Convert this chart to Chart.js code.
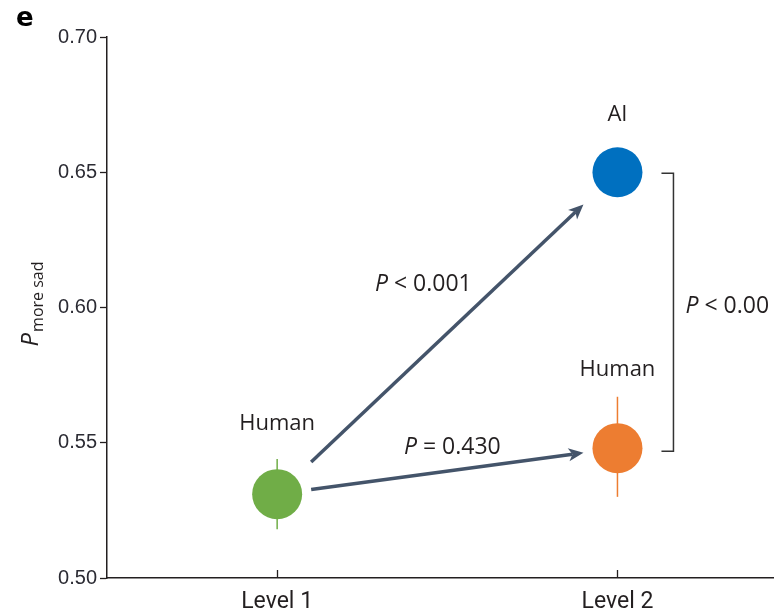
<!DOCTYPE html>
<html>
<head>
<meta charset="utf-8">
<script src="https://cdn.jsdelivr.net/npm/chart.js@4.4.0/dist/chart.umd.min.js"></script>
<style>
  html, body { margin: 0; padding: 0; background: #ffffff; }
  #wrap { width: 774px; height: 612px; position: relative; }
</style>
</head>
<body>
<div id="wrap"><canvas id="c" width="774" height="612"></canvas></div>
<script>
// Categories on the x axis
const categories = ['Level 1', 'Level 2'];
// Groups: name, level index (1-based), mean and interval
const groupNames = ['Human', 'AI', 'Human'];
const groupLevels = [1, 2, 2];
const meanValues = [0.531, 0.650, 0.548];
const lowValues = [0.518, 0.646, 0.530];
const highValues = [0.544, 0.654, 0.567];
// Y axis ticks
const yTicks = [0.50, 0.55, 0.60, 0.65, 0.70];
// Comparisons: from group, to group, operator, P value text
const arrowFrom = [0, 0];
const arrowTo = [1, 2];
const arrowOps = ['<', '='];
const arrowPValues = ['0.001', '0.430'];
// Bracket comparison between the two Level 2 groups
const bracketGroups = [1, 2];
const bracketOp = '<';
const bracketPValue = '0.00';

const groupColors = ['#70AD47', '#0070C0', '#ED7D31'];
const ink = '#231F20';
const arrowColor = '#44546A';
const textFont = '"Open Sans", "Noto Sans", sans-serif';
const pSize = 23;

function drawPText(ctx, x, y, op, val, align) {
  ctx.save();
  ctx.fillStyle = ink;
  ctx.textBaseline = 'middle';
  ctx.font = 'italic ' + pSize + 'px ' + textFont;
  const pW = ctx.measureText('P').width;
  ctx.font = pSize + 'px ' + textFont;
  const rest = ' ' + op + ' ' + val;
  const rW = ctx.measureText(rest).width;
  const total = pW + rW;
  let x0 = align === 'center' ? x - total / 2 : x;
  ctx.textAlign = 'left';
  ctx.font = 'italic ' + pSize + 'px ' + textFont;
  ctx.fillText('P', x0, y);
  ctx.font = pSize + 'px ' + textFont;
  ctx.fillText(rest, x0 + pW, y);
  ctx.restore();
}

const annotations = {
  id: 'annotations',
  beforeDatasetsDraw(chart) {
    const { ctx, scales: { x, y } } = chart;
    ctx.save();
    ctx.lineWidth = 1.5;
    groupNames.forEach((g, i) => {
      const px = x.getPixelForValue(groupLevels[i]);
      ctx.strokeStyle = groupColors[i];
      ctx.beginPath();
      ctx.moveTo(px, y.getPixelForValue(lowValues[i]));
      ctx.lineTo(px, y.getPixelForValue(highValues[i]));
      ctx.stroke();
    });
    ctx.restore();
  },
  afterDatasetsDraw(chart) {
    const { ctx, scales: { x, y }, chartArea } = chart;
    const P = i => ({ x: x.getPixelForValue(groupLevels[i]), y: y.getPixelForValue(meanValues[i]) });

    // inner tick marks on the x axis
    ctx.save();
    ctx.strokeStyle = ink;
    ctx.lineWidth = 1.3;
    categories.forEach((c, i) => {
      const px = Math.round(x.getPixelForValue(i + 1)) + 0.5;
      ctx.beginPath();
      ctx.moveTo(px, chartArea.bottom);
      ctx.lineTo(px, chartArea.bottom - 8);
      ctx.stroke();
    });
    ctx.restore();

    // arrows between groups
    const gap = 34;
    arrowFrom.forEach((f, k) => {
      const a = P(f), b = P(arrowTo[k]);
      const slope = (b.y - a.y) / (b.x - a.x);
      const sx = a.x + gap, sy = a.y + slope * gap;
      const ex = b.x - gap, ey = b.y - slope * gap;
      const ang = Math.atan2(ey - sy, ex - sx);
      const headLen = 15, headHalf = 6.5, notch = 4;
      ctx.save();
      ctx.strokeStyle = arrowColor;
      ctx.fillStyle = arrowColor;
      ctx.lineWidth = 3.5;
      ctx.lineCap = 'butt';
      ctx.beginPath();
      ctx.moveTo(sx, sy);
      ctx.lineTo(ex - Math.cos(ang) * (headLen - notch), ey - Math.sin(ang) * (headLen - notch));
      ctx.stroke();
      ctx.translate(ex, ey);
      ctx.rotate(ang);
      ctx.beginPath();
      ctx.moveTo(0, 0);
      ctx.lineTo(-headLen, -headHalf);
      ctx.lineTo(-headLen + notch, 0);
      ctx.lineTo(-headLen, headHalf);
      ctx.closePath();
      ctx.fill();
      ctx.restore();

      const mx = (sx + ex) / 2, my = (sy + ey) / 2;
      if (k === 0) drawPText(ctx, mx - 24, my - 49, arrowOps[k], arrowPValues[k], 'center');
      else drawPText(ctx, mx + 5, my - 24, arrowOps[k], arrowPValues[k], 'center');
    });

    // bracket between the two Level 2 groups
    const t = P(bracketGroups[0]), b = P(bracketGroups[1]);
    const bx0 = t.x + 44, bx1 = t.x + 56;
    ctx.save();
    ctx.strokeStyle = '#333333';
    ctx.lineWidth = 1.5;
    ctx.beginPath();
    ctx.moveTo(bx0, t.y + 1);
    ctx.lineTo(bx1, t.y + 1);
    ctx.lineTo(bx1, b.y + 3);
    ctx.lineTo(bx0, b.y + 3);
    ctx.stroke();
    ctx.restore();
    drawPText(ctx, bx1 + 12, (t.y + b.y) / 2 - 4, bracketOp, bracketPValue, 'left');

    // group names above markers
    const labelOffsets = [70, 58, 78];
    ctx.save();
    ctx.fillStyle = ink;
    ctx.font = '22px ' + textFont;
    ctx.textAlign = 'center';
    ctx.textBaseline = 'middle';
    groupNames.forEach((g, i) => {
      const p = P(i);
      ctx.fillText(g, p.x, p.y - labelOffsets[i]);
    });
    ctx.restore();
  },
  afterDraw(chart) {
    const { ctx } = chart;
    ctx.save();
    // panel letter
    ctx.fillStyle = '#000000';
    ctx.font = 'bold 26px "DejaVu Sans", sans-serif';
    ctx.textAlign = 'left';
    ctx.textBaseline = 'alphabetic';
    ctx.fillText('e', 16, 26);
    // y axis title: P with subscript
    ctx.translate(31, 304);
    ctx.rotate(-Math.PI / 2);
    ctx.fillStyle = ink;
    ctx.font = 'italic 24px ' + textFont;
    const pW = ctx.measureText('P').width;
    ctx.font = '16px ' + textFont;
    const sub = 'more sad';
    const sW = ctx.measureText(sub).width;
    const total = pW + 1 + sW;
    ctx.textBaseline = 'alphabetic';
    ctx.font = 'italic 24px ' + textFont;
    ctx.fillText('P', -total / 2, 7);
    ctx.font = '16px ' + textFont;
    ctx.fillText(sub, -total / 2 + pW + 1, 12);
    ctx.restore();
  }
};

new Chart(document.getElementById('c').getContext('2d'), {
  type: 'scatter',
  data: {
    datasets: groupNames.map((g, i) => ({
      label: g,
      data: [{ x: groupLevels[i], y: meanValues[i] }],
      backgroundColor: groupColors[i],
      borderColor: groupColors[i],
      borderWidth: 0,
      pointRadius: 25,
      pointHoverRadius: 25
    }))
  },
  options: {
    responsive: false,
    animation: false,
    events: [],
    layout: { autoPadding: false, padding: { top: 37, right: 0, left: 0, bottom: 0 } },
    plugins: { legend: { display: false }, tooltip: { enabled: false } },
    scales: {
      x: {
        type: 'linear',
        min: 0.5,
        max: 2.46,
        afterBuildTicks: s => { s.ticks = categories.map((c, i) => ({ value: i + 1 })); },
        afterFit: s => { s.height = 34; s.paddingLeft = 0; s.paddingRight = 0; },
        ticks: {
          callback: v => categories[v - 1],
          font: { family: 'Roboto', size: 23 },
          color: ink,
          padding: 2,
          maxRotation: 0,
          autoSkip: false
        },
        grid: { display: false },
        border: { display: true, color: ink, width: 1.5 }
      },
      y: {
        min: 0.5,
        max: 0.7,
        afterBuildTicks: s => { s.ticks = yTicks.map(v => ({ value: v })); },
        afterFit: s => { s.width = 107; s.paddingTop = 0; s.paddingBottom = 0; },
        ticks: {
          callback: v => v.toFixed(2),
          font: { family: 'Liberation Sans', size: 20 },
          color: '#2b2b33',
          padding: 3
        },
        grid: { drawOnChartArea: false, drawTicks: true, tickLength: 7, color: ink, tickWidth: 1.3 },
        border: { display: true, color: ink, width: 1.5 }
      }
    }
  },
  plugins: [annotations]
});
</script>
</body>
</html>
